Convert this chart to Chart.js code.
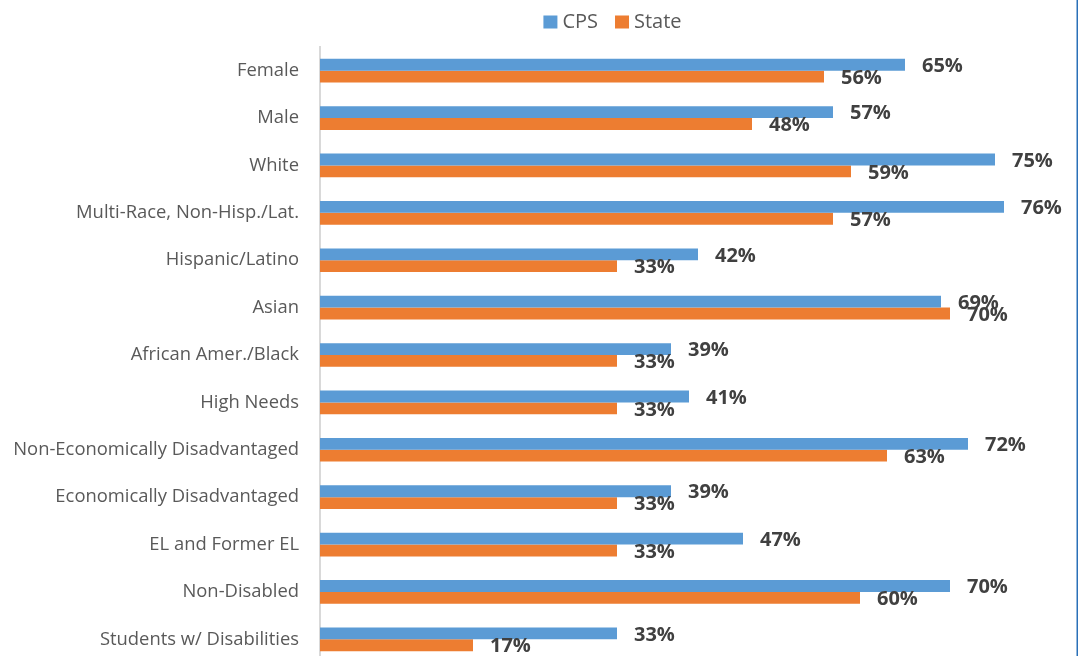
<!DOCTYPE html>
<html>
<head>
<meta charset="utf-8">
<script src="https://cdn.jsdelivr.net/npm/chart.js@4"></script>
<style>
html,body{margin:0;padding:0;background:#fff;overflow:hidden;}
#wrap{width:1078px;height:663px;position:relative;}
</style>
</head>
<body>
<div id="wrap"><canvas id="c" width="1078" height="663"></canvas></div>
<script>
const categories = ["Female","Male","White","Multi-Race, Non-Hisp./Lat.","Hispanic/Latino","Asian","African Amer./Black","High Needs","Non-Economically Disadvantaged","Economically Disadvantaged","EL and Former EL","Non-Disabled","Students w/ Disabilities"];
const cpsValues = [65,57,75,76,42,69,39,41,72,39,47,70,33];
const stateValues = [56,48,59,57,33,70,33,33,63,33,33,60,17];
const seriesNames = ["CPS","State"];
const seriesColors = ["#5b9bd5","#ed7d31"];

const topLegend = {
  id: 'topLegend',
  afterDraw(chart) {
    const ctx = chart.ctx;
    ctx.save();
    ctx.font = '20px "Open Sans"';
    ctx.textBaseline = 'middle';
    ctx.textAlign = 'left';
    const box = 14, boxH = 13, gap = 5, itemGap = 17;
    const items = chart.data.datasets.map(ds => ({ text: ds.label, color: ds.backgroundColor, w: ctx.measureText(ds.label).width }));
    let total = 0;
    items.forEach((it, i) => { total += box + gap + it.w + (i ? itemGap : 0); });
    let x = 612.5 - total / 2;
    const cy = 22;
    items.forEach((it, i) => {
      if (i) x += itemGap;
      ctx.fillStyle = it.color;
      ctx.fillRect(x, cy - boxH / 2, box, boxH);
      x += box + gap;
      ctx.fillStyle = '#595959';
      ctx.fillText(it.text, x, cy);
      x += it.w;
    });
    ctx.restore();
  }
};

const valueLabels = {
  id: 'valueLabels',
  afterDatasetsDraw(chart) {
    const ctx = chart.ctx;
    ctx.save();
    ctx.font = 'bold 20px "Open Sans"';
    ctx.fillStyle = '#404040';
    ctx.textAlign = 'left';
    ctx.textBaseline = 'middle';
    chart.data.datasets.forEach((ds, di) => {
      const meta = chart.getDatasetMeta(di);
      meta.data.forEach((el, i) => {
        ctx.fillText(ds.data[i] + '%', el.x + 17, el.y + 1.5);
      });
    });
    ctx.restore();
  }
};

const rightBorder = {
  id: 'rightBorder',
  afterDraw(chart) {
    const ctx = chart.ctx;
    ctx.save();
    ctx.fillStyle = '#2a70b8';
    ctx.fillRect(chart.width - 1.5, 0, 1.5, chart.height);
    ctx.restore();
  }
};

new Chart(document.getElementById('c'), {
  type: 'bar',
  data: {
    labels: categories,
    datasets: [
      { label: seriesNames[0], data: cpsValues, backgroundColor: seriesColors[0], barPercentage: 1.0, categoryPercentage: 0.5 },
      { label: seriesNames[1], data: stateValues, backgroundColor: seriesColors[1], barPercentage: 1.0, categoryPercentage: 0.5 }
    ]
  },
  options: {
    indexAxis: 'y',
    responsive: false,
    animation: false,
    layout: { autoPadding: false, padding: { left: 0, right: 2, top: 47, bottom: 0 } },
    plugins: {
      legend: { display: false },
      tooltip: { enabled: false }
    },
    scales: {
      x: { display: false, min: 0, max: 84 },
      y: {
        grid: { display: false, drawTicks: false },
        border: { display: true, color: '#d9d9d9', width: 2 },
        ticks: { color: '#595959', padding: 21, font: { family: '"Open Sans"', size: 18.4 } },
        afterFit(scale) { scale.width = 320; scale.paddingTop = 0; scale.paddingBottom = 0; }
      }
    }
  },
  plugins: [valueLabels, topLegend, rightBorder]
});
</script>
</body>
</html>
